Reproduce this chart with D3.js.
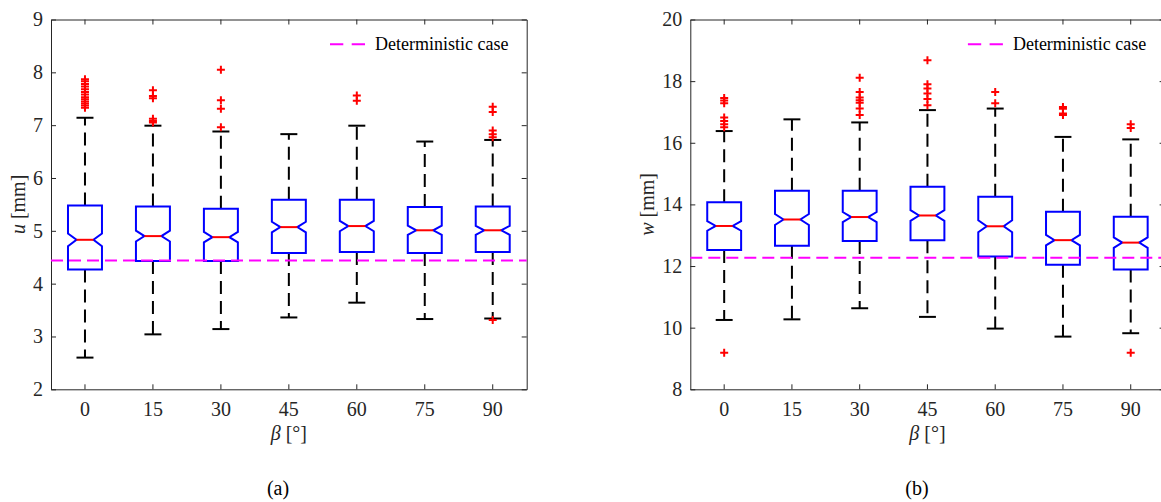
<!DOCTYPE html>
<html><head><meta charset="utf-8">
<script src="https://cdn.jsdelivr.net/npm/d3@7"></script>
<style>html,body{margin:0;padding:0;background:#fff;overflow:hidden}
svg text{font-family:"Liberation Serif","Times New Roman",Tinos,"DejaVu Serif",serif !important;}</style>
</head><body><svg id="c" width="1161" height="502"></svg>
<script>
// ---- data ----
const categories = [0, 15, 30, 45, 60, 75, 90];
const sampleSize = 250;

const uLow  = [2.60, 3.04, 3.14, 3.36, 3.64, 3.33, 3.34];
const uQ1   = [4.27, 4.43, 4.43, 4.58, 4.60, 4.58, 4.60];
const uMed  = [4.83, 4.90, 4.88, 5.07, 5.09, 5.01, 5.01];
const uQ3   = [5.48, 5.46, 5.42, 5.59, 5.59, 5.45, 5.46];
const uHigh = [7.14, 6.99, 6.88, 6.83, 6.99, 6.69, 6.72];
const uOutliers = [
  [7.33, 7.37, 7.41, 7.45, 7.49, 7.53, 7.58, 7.63, 7.68, 7.73, 7.78, 7.83, 7.87],
  [7.05, 7.08, 7.12, 7.51, 7.55, 7.66],
  [6.96, 7.31, 7.47, 8.05],
  [],
  [7.46, 7.56],
  [],
  [3.31, 6.77, 6.83, 6.90, 7.25, 7.35]
];
const uDeterministic = 4.44;
const uTicks = [2, 3, 4, 5, 6, 7, 8, 9];

const wLow  = [10.25, 10.27, 10.63, 10.35, 9.97, 9.71, 9.82];
const wQ1   = [12.52, 12.66, 12.81, 12.84, 12.31, 12.04, 11.89];
const wMed  = [13.30, 13.51, 13.59, 13.64, 13.29, 12.84, 12.76];
const wQ3   = [14.07, 14.44, 14.44, 14.57, 14.25, 13.76, 13.60];
const wHigh = [16.38, 16.76, 16.66, 17.06, 17.11, 16.19, 16.11];
const wOutliers = [
  [9.19, 16.50, 16.60, 16.71, 16.82, 17.28, 17.37, 17.45],
  [],
  [16.90, 17.11, 17.30, 17.38, 17.47, 17.65, 18.11],
  [17.22, 17.42, 17.60, 17.76, 17.90, 18.68],
  [17.28, 17.65],
  [16.90, 16.95, 17.10, 17.16],
  [9.19, 16.48, 16.60]
];
const wDeterministic = 12.27;
const wTicks = [8, 10, 12, 14, 16, 18, 20];

const legendLabel = "Deterministic case";

// ---- drawing ----
const svg = d3.select("#c");
svg.append("rect").attr("width", 1161).attr("height", 502).attr("fill", "#fff");
const FONT = "Liberation Serif, Times New Roman, serif";
const TXT = "#262626";

function panel(o) {
  const g = svg.append("g");
  const x = d3.scaleBand().domain(categories).range([o.x0, o.x1]).paddingInner(0).paddingOuter(0);
  const y = d3.scaleLinear().domain(o.domain).range([o.yBot, o.yTop]);
  const bw = x.bandwidth();
  const w = bw * 0.5, half = w / 2, inset = w / 4;

  // axes
  const axL = g.append("g").attr("transform", `translate(${o.x0},0)`)
    .call(d3.axisLeft(y).tickValues(o.ticks).tickFormat(d3.format("d")).tickSize(-5).tickSizeOuter(0).tickPadding(8));
  const axR = g.append("g").attr("transform", `translate(${o.x1},0)`)
    .call(d3.axisRight(y).tickValues(o.ticks).tickSize(-5).tickSizeOuter(0).tickFormat(""));
  const axB = g.append("g").attr("transform", `translate(0,${o.yBot})`)
    .call(d3.axisBottom(x).tickSize(-5).tickSizeOuter(0).tickPadding(12.5));
  const axT = g.append("g").attr("transform", `translate(0,${o.yTop})`)
    .call(d3.axisTop(x).tickSize(-5).tickSizeOuter(0).tickFormat(""));
  [axL, axR, axB, axT].forEach(a => {
    a.attr("color", TXT).attr("font-family", FONT).attr("font-size", 20);
    a.selectAll("path,line").attr("stroke-width", 1);
  });

  categories.forEach((c, i) => {
    const cx = x(c) + bw / 2;
    const q1 = o.q1[i], q3 = o.q3[i], md = o.med[i];
    const nh = 1.57 * (q3 - q1) / Math.sqrt(sampleSize);
    // whiskers
    g.append("line").attr("x1", cx).attr("x2", cx).attr("y1", y(q3)).attr("y2", y(o.hi[i]))
      .attr("stroke", "#000").attr("stroke-width", 2).attr("stroke-dasharray", "13,7");
    g.append("line").attr("x1", cx).attr("x2", cx).attr("y1", y(q1)).attr("y2", y(o.lo[i]))
      .attr("stroke", "#000").attr("stroke-width", 2).attr("stroke-dasharray", "13,7");
    [o.hi[i], o.lo[i]].forEach(v => {
      g.append("line").attr("x1", cx - w / 4).attr("x2", cx + w / 4).attr("y1", y(v)).attr("y2", y(v))
        .attr("stroke", "#000").attr("stroke-width", 2);
    });
    // notched box
    const p = d3.path();
    p.moveTo(cx - half, y(q1));
    p.lineTo(cx - half, y(md - nh));
    p.lineTo(cx - half + inset, y(md));
    p.lineTo(cx - half, y(md + nh));
    p.lineTo(cx - half, y(q3));
    p.lineTo(cx + half, y(q3));
    p.lineTo(cx + half, y(md + nh));
    p.lineTo(cx + half - inset, y(md));
    p.lineTo(cx + half, y(md - nh));
    p.lineTo(cx + half, y(q1));
    p.closePath();
    g.append("path").attr("d", p.toString()).attr("fill", "none")
      .attr("stroke", "#0000ff").attr("stroke-width", 2).attr("stroke-linejoin", "miter");
    g.append("line").attr("x1", cx - half + inset).attr("x2", cx + half - inset)
      .attr("y1", y(md)).attr("y2", y(md)).attr("stroke", "#ff0000").attr("stroke-width", 2);
    // outliers
    o.out[i].forEach(v => {
      const yy = y(v);
      g.append("path").attr("d", `M${cx - 4},${yy}H${cx + 4}M${cx},${yy - 4}V${yy + 4}`)
        .attr("stroke", "#ff0000").attr("stroke-width", 2).attr("fill", "none");
    });
  });

  // deterministic line
  g.append("line").attr("x1", o.x0).attr("x2", o.x1).attr("y1", y(o.det)).attr("y2", y(o.det))
    .attr("stroke", "#ff00ff").attr("stroke-width", 2).attr("stroke-dasharray", "12,6");

  // legend
  g.append("line").attr("x1", o.x1 - 196.7).attr("x2", o.x1 - 161.7).attr("y1", 44.3).attr("y2", 44.3)
    .attr("stroke", "#ff00ff").attr("stroke-width", 2).attr("stroke-dasharray", "13.3,8.4");
  g.append("text").attr("x", o.x1 - 151.7).attr("y", 50).attr("font-family", FONT).attr("font-size", 18)
    .attr("fill", "#000").text(legendLabel);

  // axis labels
  const yl = g.append("text").attr("transform", `translate(${o.ylx},${(o.yTop + o.yBot) / 2}) rotate(-90)`)
    .attr("text-anchor", "middle").attr("font-family", FONT).attr("font-size", 20).attr("fill", TXT);
  yl.append("tspan").attr("font-style", "italic").text(o.yvar);
  yl.append("tspan").text(" [mm]");
  const xl = g.append("text").attr("x", (o.x0 + o.x1) / 2).attr("y", 440)
    .attr("text-anchor", "middle").attr("font-family", FONT).attr("font-size", 20).attr("fill", TXT);
  xl.append("tspan").attr("font-style", "italic").text("β");
  xl.append("tspan").text(" [°]");
  g.append("text").attr("x", o.capX).attr("y", 495).attr("text-anchor", "middle")
    .attr("font-family", FONT).attr("font-size", 20).attr("fill", "#000").text(o.caption);
}

panel({x0: 51, x1: 526.7, yTop: 19.5, yBot: 389.3, domain: [2, 9], ticks: uTicks,
  lo: uLow, q1: uQ1, med: uMed, q3: uQ3, hi: uHigh, out: uOutliers, det: uDeterministic,
  yvar: "u", ylx: 25, capX: 278, caption: "(a)"});
panel({x0: 690.3, x1: 1164.6, yTop: 19.5, yBot: 389.3, domain: [8, 20], ticks: wTicks,
  lo: wLow, q1: wQ1, med: wMed, q3: wQ3, hi: wHigh, out: wOutliers, det: wDeterministic,
  yvar: "w", ylx: 654, capX: 917, caption: "(b)"});
</script></body></html>
